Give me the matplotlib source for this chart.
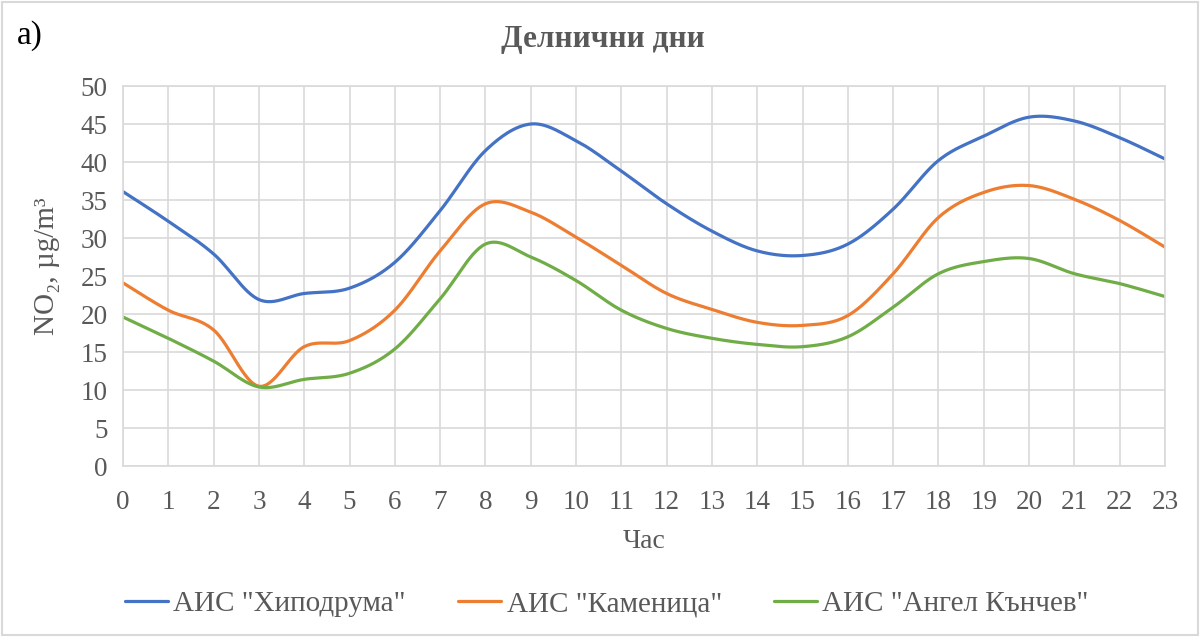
import numpy as np
import matplotlib
matplotlib.use("Agg")
import matplotlib.pyplot as plt
from matplotlib.patches import Rectangle

plt.rcParams['font.family'] = ['Liberation Serif', 'DejaVu Serif']

hours = list(range(24))
hipodruma = [36.1, 32.2, 27.9, 21.9, 22.7, 23.4, 26.8, 33.6, 41.5, 45.0, 42.8, 38.8,
             34.5, 30.9, 28.3, 27.7, 29.2, 33.8, 40.2, 43.4, 45.9, 45.4, 43.2, 40.4]
kamenitsa = [24.1, 20.5, 17.9, 10.5, 15.7, 16.5, 20.5, 28.3, 34.5, 33.4, 30.1, 26.4,
             22.7, 20.6, 18.9, 18.5, 19.8, 25.3, 32.7, 36.0, 36.9, 35.1, 32.3, 28.8]
angel = [19.6, 16.8, 13.8, 10.4, 11.4, 12.2, 15.4, 22.0, 29.2, 27.5, 24.4, 20.5,
         18.1, 16.8, 16.0, 15.7, 17.0, 20.9, 25.3, 26.9, 27.3, 25.3, 24.0, 22.3]
series_names = ['АИС "Хиподрума"', 'АИС "Каменица"', 'АИС "Ангел Кънчев"']
colors = ['#4472C4', '#ED7D31', '#70AD47']
title = 'Делнични дни'
xlabel = 'Час'
ylabel = 'NO₂, µg/m³'


def smooth(x, y, n=30):
    """Excel-like smoothed line: cubic Bezier segments with Catmull-Rom tangents."""
    x = np.asarray(x, float)
    y = np.asarray(y, float)
    P = np.column_stack([x, y])
    m = len(P)
    out = []
    t = np.linspace(0, 1, n)[:, None]
    for i in range(m - 1):
        p0 = P[i - 1] if i > 0 else P[i]
        p1 = P[i]
        p2 = P[i + 1]
        p3 = P[i + 2] if i + 2 < m else P[i + 1]
        c1 = p1 + (p2 - p0) / 6.0
        c2 = p2 - (p3 - p1) / 6.0
        seg = ((1 - t) ** 3) * p1 + 3 * ((1 - t) ** 2) * t * c1 + 3 * (1 - t) * t ** 2 * c2 + t ** 3 * p2
        out.append(seg if i == 0 else seg[1:])
    out = np.vstack(out)
    return out[:, 0], out[:, 1]


fig = plt.figure(figsize=(12.01, 6.37), dpi=100)
ax = fig.add_axes([123 / 1201, 1 - 466 / 637, (1165 - 123) / 1201, (466 - 86) / 637])

for vals, name, c in zip([hipodruma, kamenitsa, angel], series_names, colors):
    sx, sy = smooth(hours, vals)
    ax.plot(sx, sy, color=c, lw=2.3, label=name, solid_capstyle='round')

ax.set_xlim(0, 23)
ax.set_ylim(0, 50)
ax.set_xticks(hours)
ax.set_yticks(range(0, 51, 5))
ax.grid(True, color='#d9d9d9', lw=1.2)
ax.set_axisbelow(True)
for s in ax.spines.values():
    s.set_color('#d9d9d9')
    s.set_linewidth(1.2)
ax.tick_params(length=0, labelsize=19.5, labelcolor='#595959')
ax.tick_params(axis='x', pad=17)
ax.tick_params(axis='y', pad=11)

fig.text(644 / 1201, 1 - 541 / 637, xlabel, ha='center', va='center', fontsize=20, color='#595959')
fig.text(47 / 1201, 1 - 266 / 637, ylabel, ha='center', va='center', rotation=90,
         fontsize=21, color='#595959')

fig.text(603 / 1201, 1 - 39 / 637, title, ha='center', va='center', fontsize=22.5,
         fontweight='bold', color='#595959')
fig.text(17 / 1201, 1 - 36 / 637, 'a)', ha='left', va='center', fontsize=24, color='black')

leg = fig.legend(loc='center', bbox_to_anchor=(607 / 1201, 1 - 604 / 637), ncol=3, frameon=False,
                 fontsize=21, handlelength=1.45, handletextpad=0.2, columnspacing=1.8)
for t in leg.get_texts():
    t.set_color('#595959')

fig.patches.append(Rectangle((2 / 1201, 2 / 637), 1196 / 1201, 633 / 637, transform=fig.transFigure,
                             fill=False, edgecolor='#d9d9d9', lw=1.5))

fig.savefig('out.png', dpi=100)
